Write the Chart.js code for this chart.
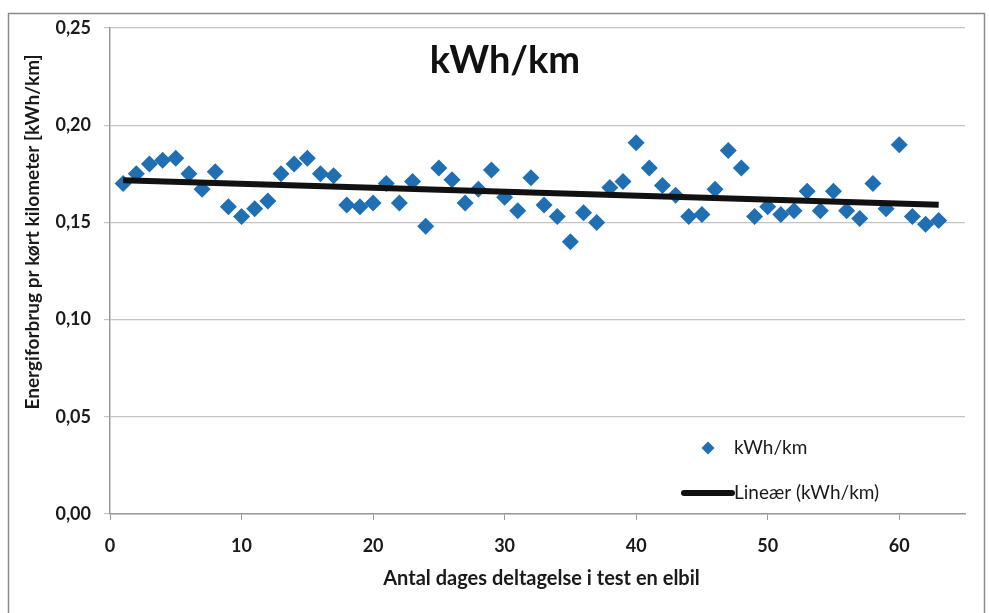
<!DOCTYPE html>
<html>
<head>
<meta charset="utf-8">
<script src="https://cdn.jsdelivr.net/npm/chart.js@4.4.1/dist/chart.umd.min.js"></script>
<style>
  html, body { margin: 0; padding: 0; background: #ffffff; }
  #wrap { width: 989px; height: 613px; position: relative; }
</style>
</head>
<body>
<div id="wrap"><canvas id="c" width="989" height="613"></canvas></div>
<script>
// Energy use per driven km for each day of participation
const days = [
  1, 2, 3, 4, 5, 6, 7, 8, 9, 10,
  11, 12, 13, 14, 15, 16, 17, 18, 19, 20,
  21, 22, 23, 24, 25, 26, 27, 28, 29, 30,
  31, 32, 33, 34, 35, 36, 37, 38, 39, 40,
  41, 42, 43, 44, 45, 46, 47, 48, 49, 50,
  51, 52, 53, 54, 55, 56, 57, 58, 59, 60,
  61, 62, 63
];
const kwhPerKm = [
  0.170, 0.175, 0.180, 0.182, 0.183, 0.175, 0.167, 0.176, 0.158, 0.153,
  0.157, 0.161, 0.175, 0.180, 0.183, 0.175, 0.174, 0.159, 0.158, 0.160,
  0.170, 0.160, 0.171, 0.148, 0.178, 0.172, 0.160, 0.167, 0.177, 0.163,
  0.156, 0.173, 0.159, 0.153, 0.140, 0.155, 0.150, 0.168, 0.171, 0.191,
  0.178, 0.169, 0.164, 0.153, 0.154, 0.167, 0.187, 0.178, 0.153, 0.158,
  0.154, 0.156, 0.166, 0.156, 0.166, 0.156, 0.152, 0.170, 0.157, 0.190,
  0.153, 0.149, 0.151
];
const xTickValues = [0, 10, 20, 30, 40, 50, 60];
const yTickValues = [0, 0.05, 0.10, 0.15, 0.20, 0.25];
const yTickLabels = ['0,00', '0,05', '0,10', '0,15', '0,20', '0,25'];

const seriesName = 'kWh/km';
const trendName = 'Lineær (kWh/km)';
const chartTitle = 'kWh/km';
const xTitle = 'Antal dages deltagelse i test en elbil';
const yTitle = 'Energiforbrug pr kørt kilometer [kWh/km]';

const BLUE = '#1f6fb2';
const FONT = 'Lato, "Open Sans", sans-serif';

// Least-squares linear trend over the measured points
function linearFit(xs, ys) {
  const n = xs.length;
  let sx = 0, sy = 0, sxx = 0, sxy = 0;
  for (let i = 0; i < n; i++) {
    sx += xs[i]; sy += ys[i]; sxx += xs[i] * xs[i]; sxy += xs[i] * ys[i];
  }
  const slope = (n * sxy - sx * sy) / (n * sxx - sx * sx);
  const intercept = (sy - slope * sx) / n;
  return { slope, intercept };
}
const fit = linearFit(days, kwhPerKm);
const xFirst = days[0], xLast = days[days.length - 1];
const trendPoints = [
  { x: xFirst, y: fit.intercept + fit.slope * xFirst },
  { x: xLast, y: fit.intercept + fit.slope * xLast }
];
const scatterPoints = days.map((d, i) => ({ x: d, y: kwhPerKm[i] }));

// Outer frame, titles and the in-plot legend
const decorations = {
  id: 'decorations',
  beforeDraw(chart) {
    const ctx = chart.ctx;
    ctx.save();
    ctx.fillStyle = '#ffffff';
    ctx.fillRect(0, 0, chart.width, chart.height);
    ctx.restore();
  },
  afterDraw(chart) {
    const ctx = chart.ctx;
    const area = chart.chartArea;
    ctx.save();
    // frame
    ctx.strokeStyle = '#8a8a8a';
    ctx.lineWidth = 1.5;
    ctx.strokeRect(8.5, 13.5, 976, 640);

    // chart title
    ctx.fillStyle = '#111111';
    ctx.font = 'bold 38px ' + FONT;
    ctx.textAlign = 'center';
    ctx.textBaseline = 'middle';
    ctx.fillText(chartTitle, 505, 61);

    // x axis title
    ctx.font = 'bold 20px ' + FONT;
    ctx.fillStyle = '#1a1a1a';
    ctx.fillText(xTitle, (area.left + area.right) / 2 + 4, 579);

    // y axis title
    ctx.save();
    ctx.translate(33, 232);
    ctx.rotate(-Math.PI / 2);
    ctx.font = 'bold 19px ' + FONT;
    ctx.textAlign = 'center';
    ctx.textBaseline = 'middle';
    ctx.fillText(yTitle, 0, 0);
    ctx.restore();

    // legend: series marker
    const lx = 708, ly = 448, r = 6.5;
    ctx.fillStyle = BLUE;
    ctx.beginPath();
    ctx.moveTo(lx, ly - r);
    ctx.lineTo(lx + r, ly);
    ctx.lineTo(lx, ly + r);
    ctx.lineTo(lx - r, ly);
    ctx.closePath();
    ctx.fill();
    ctx.fillStyle = '#1a1a1a';
    ctx.font = '19px ' + FONT;
    ctx.textAlign = 'left';
    ctx.textBaseline = 'middle';
    ctx.fillText(seriesName, 734, ly);

    // legend: trend line sample
    ctx.strokeStyle = '#111111';
    ctx.lineWidth = 6;
    ctx.lineCap = 'round';
    ctx.beginPath();
    ctx.moveTo(684, 493);
    ctx.lineTo(732, 493);
    ctx.stroke();
    ctx.fillText(trendName, 734, 493);
    ctx.restore();
  }
};

new Chart(document.getElementById('c'), {
  type: 'scatter',
  data: {
    datasets: [
      {
        type: 'line',
        label: trendName,
        data: trendPoints,
        borderColor: '#111111',
        borderWidth: 6,
        pointRadius: 0,
        fill: false,
        order: 0
      },
      {
        label: seriesName,
        data: scatterPoints,
        backgroundColor: BLUE,
        borderColor: BLUE,
        borderWidth: 0,
        pointStyle: 'rectRot',
        pointRadius: 8.5,
        order: 1
      }
    ]
  },
  options: {
    responsive: false,
    animation: false,
    devicePixelRatio: 1,
    layout: { padding: { left: 10, top: 28, right: 24, bottom: 0 } },
    plugins: {
      legend: { display: false },
      title: { display: false },
      tooltip: { enabled: false }
    },
    scales: {
      x: {
        type: 'linear',
        min: 0,
        max: 65,
        afterBuildTicks(scale) {
          scale.ticks = xTickValues.map(v => ({ value: v }));
        },
        afterFit(scale) { scale.height = 99; },
        grid: {
          drawOnChartArea: false,
          drawTicks: true,
          tickLength: 6,
          color: '#9a9a9a'
        },
        border: { color: '#9a9a9a', width: 1.5 },
        ticks: {
          padding: 15,
          color: '#1a1a1a',
          font: { family: FONT, size: 18, weight: 'bold' },
          callback: v => String(v)
        }
      },
      y: {
        min: 0,
        max: 0.25,
        afterBuildTicks(scale) {
          scale.ticks = yTickValues.map(v => ({ value: v }));
        },
        afterFit(scale) { scale.width = 100; },
        grid: {
          color: '#c4c4c4',
          lineWidth: 1.2,
          drawTicks: true,
          tickLength: 6
        },
        border: { color: '#9a9a9a', width: 1.5 },
        ticks: {
          padding: 13,
          color: '#1a1a1a',
          font: { family: FONT, size: 18, weight: 'bold' },
          callback: (v, i) => yTickLabels[i]
        }
      }
    }
  },
  plugins: [decorations]
});
</script>
</body>
</html>
